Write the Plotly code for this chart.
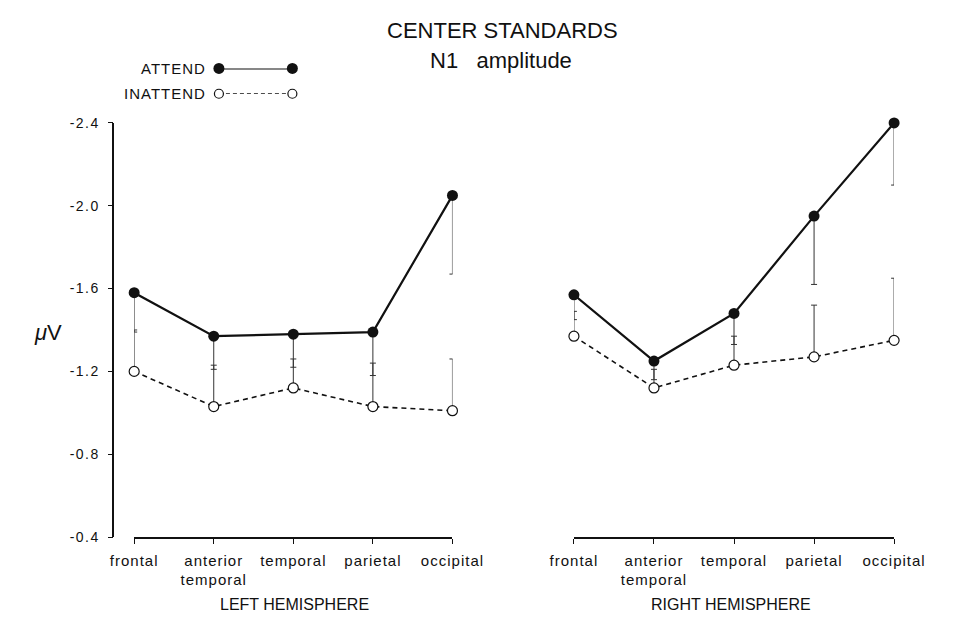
import plotly.graph_objects as go

# Electrode sites along the x axis
sites = ["frontal", "anterior<br>temporal", "temporal", "parietal", "occipital"]
site_pos = [0, 1, 2, 3, 4]

# N1 amplitude (microvolts), left hemisphere
left_attend = [-1.58, -1.37, -1.38, -1.39, -2.05]
left_inattend = [-1.20, -1.03, -1.12, -1.03, -1.01]
left_attend_err = [0.19, 0.16, 0.16, 0.21, 0.38]
left_inattend_err = [0.20, 0.20, 0.14, 0.21, 0.25]

# N1 amplitude (microvolts), right hemisphere
right_attend = [-1.57, -1.25, -1.48, -1.95, -2.40]
right_inattend = [-1.37, -1.12, -1.23, -1.27, -1.35]
right_attend_err = [0.12, 0.09, 0.15, 0.33, 0.30]
right_inattend_err = [0.12, 0.09, 0.14, 0.25, 0.30]

y_ticks = [-2.4, -2.0, -1.6, -1.2, -0.8, -0.4]
y_tick_text = ["-2.4", "-2.0", "-1.6", "-1.2", "-0.8", "-0.4"]

W, H = 960, 621
FONT = "Liberation Sans, Arial, Helvetica, sans-serif"
INK = "#111111"


def px_x(p):
    return p / W


def px_y(p):
    return 1 - p / H


def spaced(text, px):
    """Wrap each line of a label in a letter-spaced span."""
    return "<br>".join(
        f'<span style="letter-spacing:{px}px">{line}</span>'
        for line in text.split("<br>")
    )


fig = go.Figure()

err_style = dict(color="#333333", thickness=1, width=3)


def add_panel(xa, ya, attend, inattend, a_err, i_err):
    zeros = [0] * len(attend)
    # unattended: open circles, dashed line, error bars toward larger negativity
    fig.add_trace(go.Scatter(
        x=site_pos, y=inattend, xaxis=xa, yaxis=ya, mode="lines+markers",
        line=dict(color=INK, width=1.6, dash="5px,4px"),
        marker=dict(size=10, color="white", line=dict(color=INK, width=1.2)),
        error_y=dict(type="data", symmetric=False, array=zeros,
                     arrayminus=i_err, **err_style),
        cliponaxis=False, showlegend=False,
    ))
    # attended: filled circles, solid line, error bars toward zero
    fig.add_trace(go.Scatter(
        x=site_pos, y=attend, xaxis=xa, yaxis=ya, mode="lines+markers",
        line=dict(color=INK, width=2.2),
        marker=dict(size=11, color=INK),
        error_y=dict(type="data", symmetric=False, array=a_err,
                     arrayminus=zeros, **err_style),
        cliponaxis=False, showlegend=False,
    ))


add_panel("x", "y", left_attend, left_inattend, left_attend_err, left_inattend_err)
add_panel("x2", "y2", right_attend, right_inattend, right_attend_err, right_inattend_err)

# Key samples drawn on a small hidden axis pair
fig.add_trace(go.Scatter(
    x=[0, 1], y=[0, 0], xaxis="x3", yaxis="y3", mode="lines+markers",
    line=dict(color=INK, width=2.2), marker=dict(size=11, color=INK),
    cliponaxis=False, showlegend=False, hoverinfo="skip",
))
fig.add_trace(go.Scatter(
    x=[0, 1], y=[1, 1], xaxis="x3", yaxis="y3", mode="lines+markers",
    line=dict(color=INK, width=1.4, dash="4px,3px"),
    marker=dict(size=9, color="white", line=dict(color=INK, width=1.2)),
    cliponaxis=False, showlegend=False, hoverinfo="skip",
))

y_dom = [px_y(543), px_y(118)]
xaxis_common = dict(
    range=[0, 4], tickmode="array", tickvals=site_pos,
    ticktext=[spaced(s, 1) for s in sites],
    showline=True, linecolor=INK, linewidth=1.6, ticks="outside",
    ticklen=5, tickwidth=1, tickcolor=INK, showgrid=False, zeroline=False,
    tickfont=dict(family=FONT, size=15, color=INK), ticklabelstandoff=4,
)

fig.update_layout(
    width=W, height=H, margin=dict(l=0, r=0, t=0, b=0),
    paper_bgcolor="white", plot_bgcolor="white",
    xaxis=dict(domain=[px_x(117), px_x(455)], anchor="y", **xaxis_common),
    xaxis2=dict(domain=[px_x(584), px_x(924)], anchor="y2", **xaxis_common),
    yaxis=dict(
        domain=y_dom, range=[-0.4, -2.4], anchor="free", position=px_x(95),
        tickmode="array", tickvals=y_ticks,
        ticktext=[spaced(t, 1.5) for t in y_tick_text],
        showline=True, linecolor=INK, linewidth=1.8, ticks="outside",
        ticklen=5, tickwidth=1, tickcolor=INK, showgrid=False, zeroline=False,
        tickfont=dict(family=FONT, size=14, color=INK), ticklabelstandoff=5,
    ),
    yaxis2=dict(domain=y_dom, range=[-0.4, -2.4], anchor="x2", visible=False),
    xaxis3=dict(domain=[px_x(207), px_x(285)], range=[0, 1], anchor="y3",
                visible=False),
    yaxis3=dict(domain=[px_y(88), px_y(62)], range=[1, 0], anchor="x3",
                visible=False),
    showlegend=False,
)

ann_font = dict(family=FONT, color=INK)
annotations = [
    dict(text="CENTER STANDARDS", x=px_x(508), y=px_y(23), font=dict(size=22, **ann_font)),
    dict(text="N1\u00a0\u00a0 amplitude", x=px_x(507), y=px_y(54), font=dict(size=22, **ann_font)),
    dict(text=spaced("ATTEND", 1), x=px_x(195), y=px_y(62), xanchor="right", font=dict(size=15, **ann_font)),
    dict(text=spaced("INATTEND", 1), x=px_x(195), y=px_y(88), xanchor="right", font=dict(size=15, **ann_font)),
    dict(text="<i>μ</i>V", x=px_x(25), y=px_y(333), font=dict(size=22, **ann_font)),
    dict(text="LEFT HEMISPHERE", x=px_x(287), y=px_y(612), font=dict(size=16, **ann_font)),
    dict(text="RIGHT HEMISPHERE", x=px_x(751), y=px_y(612), font=dict(size=16, **ann_font)),
]
for a in annotations:
    a.setdefault("xanchor", "center")
    fig.add_annotation(xref="paper", yref="paper", yanchor="middle",
                       showarrow=False, **a)

fig.write_html("out.html")
